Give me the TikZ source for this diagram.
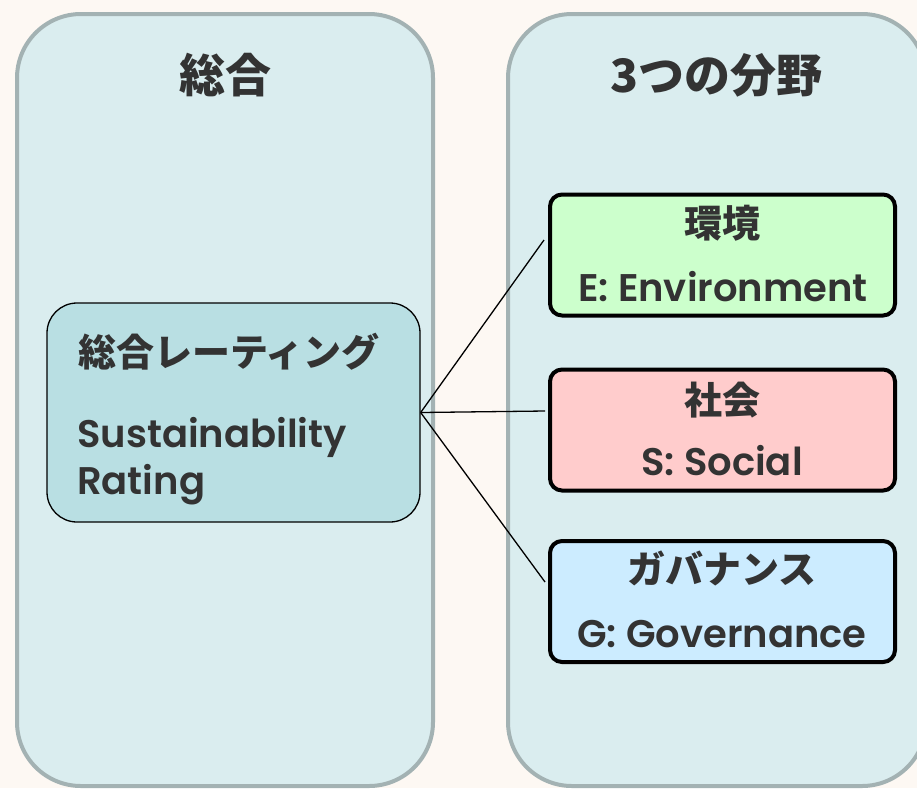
\documentclass[tikz,border=0pt]{standalone}
\usepackage{fontspec}
\setmainfont{Poppins}[BoldFont={Poppins SemiBold}]
\newfontfamily\jp{Noto Sans CJK JP}
\usetikzlibrary{calc}
\definecolor{bg}{HTML}{FDF8F3}
\definecolor{panelfill}{HTML}{DAEDEF}
\definecolor{panelline}{HTML}{A3B2B3}
\definecolor{ratefill}{HTML}{B9DFE3}
\definecolor{efill}{HTML}{CCFFCC}
\definecolor{sfill}{HTML}{FFCCCC}
\definecolor{gfill}{HTML}{CCECFF}
\definecolor{ink}{HTML}{333333}
\tikzset{
  panel/.style={draw=panelline, fill=panelfill, line width=4pt, rounded corners=64pt, inner sep=0pt},
  ratebox/.style={draw=black, fill=ratefill, line width=1.3pt, rounded corners=30pt, inner sep=0pt},
  catbox/.style={draw=black, line width=4pt, rounded corners=12pt, inner sep=0pt, minimum width=345pt, minimum height=121pt},
  titletxt/.style={text=ink, inner sep=0pt, font=\jp\bfseries\fontsize{46pt}{50pt}\selectfont},
  jptxt/.style={text=ink, inner sep=0pt, font=\jp\bfseries\fontsize{38pt}{40pt}\selectfont},
  entxt/.style={text=ink, inner sep=0pt, font=\bfseries\fontsize{38.5pt}{40pt}\selectfont},
  link/.style={draw=black, line width=1.3pt},
}
\begin{document}
\begin{tikzpicture}[x=1pt,y=-1pt]
\fill[bg] (0,0) rectangle (917,788);
\useasboundingbox (0,0) rectangle (917,788);
\clip (0,0) rectangle (917,788);
% panels
\node[panel, minimum width=416pt, minimum height=772pt] (lpanel) at (225,400) {};
\node[panel, minimum width=418pt, minimum height=772pt] (rpanel) at (717,400) {};
\node[titletxt] (ltitle) at (225,75) {総合};
\node[titletxt] (rtitle) at (716,75) {3つの分野};
% rating box
\node[ratebox, minimum width=373pt, minimum height=219pt] (rate) at (233.5,412.5) {};
\node[jptxt, anchor=base west] (rate1) at (78,366) {総合レーティング};
\node[entxt, anchor=base west] (rate2) at (77,447) {Sustainability};
\node[entxt, anchor=base west] (rate3) at (77,494) {Rating};
% category boxes
\node[catbox, fill=efill] (ebox) at (722.5,255) {};
\node[jptxt] (e1) at (722,223) {環境};
\node[entxt] (e2) at (723,287) {E: Environment};
\node[catbox, fill=sfill] (sbox) at (722.5,430) {};
\node[jptxt] (s1) at (722,400) {社会};
\node[entxt] (s2) at (722,461) {S: Social};
\node[catbox, fill=gfill] (gbox) at (722.5,601.5) {};
\node[jptxt] (g1) at (722,568) {ガバナンス};
\node[entxt] (g2) at (722,634) {G: Governance};
% connectors
\draw[link] (rate.east) -- ($(ebox.west)+(-4pt,15pt)$);
\draw[link] (rate.east) -- ($(sbox.west)+(-3pt,19pt)$);
\draw[link] (rate.east) -- ($(gbox.west)+(-3pt,19.5pt)$);
\end{tikzpicture}
\end{document}
